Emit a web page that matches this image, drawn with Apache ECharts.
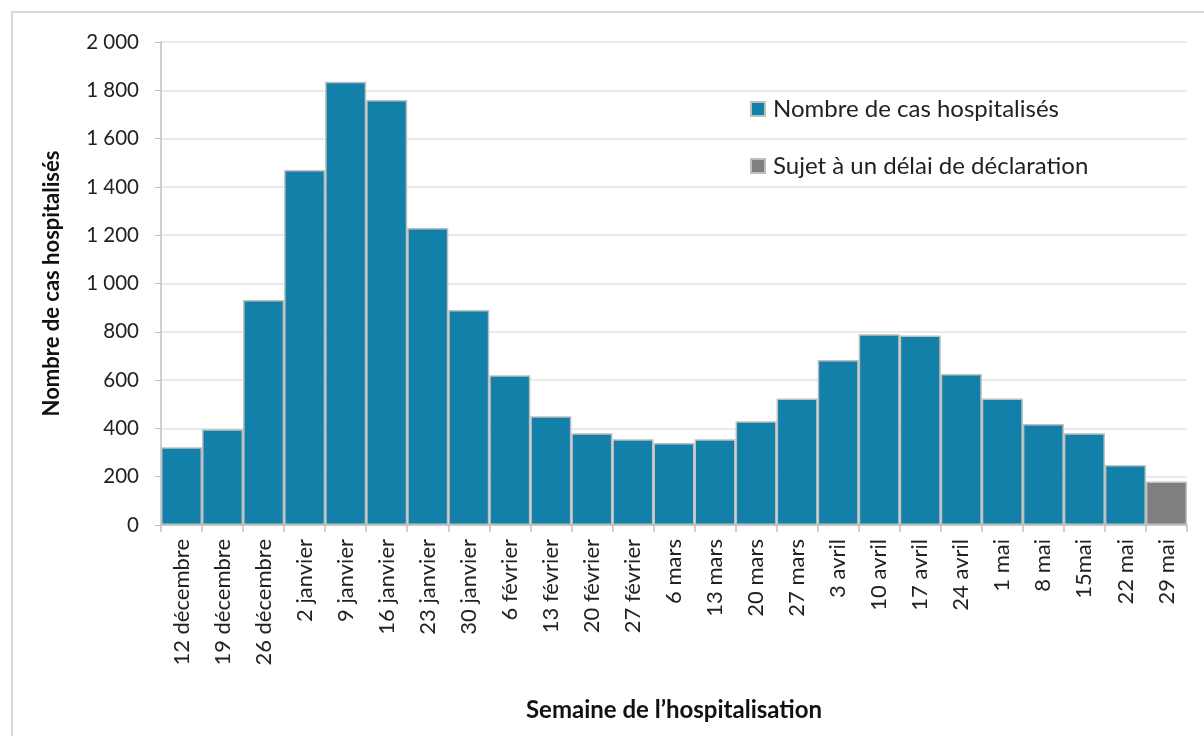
<!DOCTYPE html>
<html><head><meta charset="utf-8">
<script src="https://cdn.jsdelivr.net/npm/echarts@6/dist/echarts.min.js"></script>
<style>html,body{margin:0;padding:0;background:#fff}#c{width:1204px;height:736px}</style>
</head><body><div id="c"></div>
<script>
const categories = ['12 décembre','19 décembre','26 décembre','2 janvier','9 janvier','16 janvier','23 janvier','30 janvier','6 février','13 février','20 février','27 février','6 mars','13 mars','20 mars','27 mars','3 avril','10 avril','17 avril','24 avril','1 mai','8 mai','15mai','22 mai','29 mai'];
const hospitalises = [322,396,932,1470,1835,1760,1230,890,620,450,380,355,340,355,430,524,683,790,785,625,524,418,380,248,'-'];
const sujetDelai = ['-','-','-','-','-','-','-','-','-','-','-','-','-','-','-','-','-','-','-','-','-','-','-','-',180];
const yTicks = [0,200,400,600,800,1000,1200,1400,1600,1800,2000];

const FONT = 'Lato';
const chart = echarts.init(document.getElementById('c'));
chart.setOption({
  animation: false,
  textStyle: {fontFamily: FONT},
  graphic: [{type:'rect', shape:{x:12,y:12,width:1200,height:740}, style:{fill:'none', stroke:'#d9d9d9', lineWidth:2}}],
  grid: {left:161, right:17, top:42, bottom:211},
  legend: {
    orient:'vertical', left:745, top:92, itemWidth:14, itemHeight:14, itemGap:33,
    icon:'rect',
    textStyle:{fontSize:24, color:'#222', fontFamily:FONT, padding:[0,0,0,3]},
    data:['Nombre de cas hospitalisés','Sujet à un délai de déclaration']
  },
  xAxis: {
    type:'category', data: categories,
    name:'Semaine de l\u2019hospitalisation', nameLocation:'middle', nameGap:173,
    nameTextStyle:{fontSize:24, fontWeight:'bold', color:'#111', fontFamily:FONT},
    axisLine:{lineStyle:{color:'#bfbfbf', width:1.5}},
    axisTick:{show:true, length:7, lineStyle:{color:'#bfbfbf', width:1.5}},
    axisLabel:{rotate:90, interval:0, fontSize:22, color:'#222', margin:14, fontFamily:FONT}
  },
  yAxis: {
    type:'value', min:0, max:2000, interval:200,
    name:'Nombre de cas hospitalisés', nameLocation:'middle', nameGap:98,
    nameTextStyle:{fontSize:22, fontWeight:'bold', color:'#111', fontFamily:FONT},
    axisLine:{show:true, lineStyle:{color:'#bfbfbf', width:1.5}},
    axisTick:{show:true, length:6, lineStyle:{color:'#bfbfbf'}},
    splitLine:{lineStyle:{color:'#e3e3e3', width:1.5}},
    axisLabel:{fontSize:20.5, color:'#222', margin:22, fontFamily:FONT,
      formatter: v => String(v).replace(/\B(?=(\d{3})+(?!\d))/g, ' ')}
  },
  series: [
    {name:'Nombre de cas hospitalisés', type:'bar', stack:'a', data:hospitalises, barCategoryGap:'0%',
     itemStyle:{color:'#1380a9', borderColor:'#bfbfbf', borderWidth:1.5}},
    {name:'Sujet à un délai de déclaration', type:'bar', stack:'a', data:sujetDelai, barCategoryGap:'0%',
     itemStyle:{color:'#7f7f7f', borderColor:'#bfbfbf', borderWidth:1.5}}
  ]
});
</script></body></html>
